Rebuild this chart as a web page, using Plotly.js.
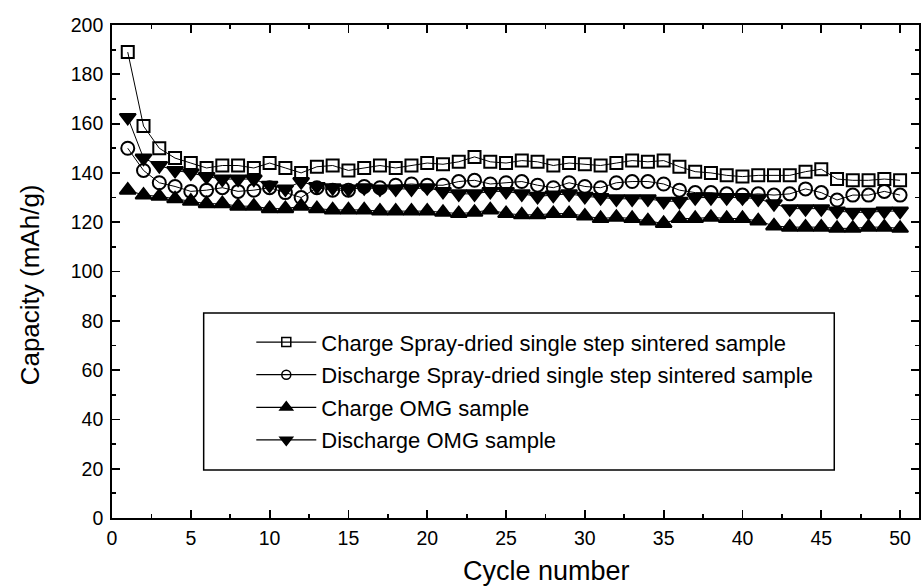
<!DOCTYPE html>
<html>
<head>
<meta charset="utf-8">
<script src="https://cdn.plot.ly/plotly-3.0.1.min.js"></script>
<style>html,body{margin:0;padding:0;background:#fff;}#chart{width:922px;height:587px;}</style>
</head>
<body>
<div id="chart"></div>
<script>
const cycles = [1,2,3,4,5,6,7,8,9,10,11,12,13,14,15,16,17,18,19,20,21,22,23,24,25,26,27,28,29,30,31,32,33,34,35,36,37,38,39,40,41,42,43,44,45,46,47,48,49,50];

const chargeSpray = [189,159,150,146,144,142,143,143,142,144,142,140,142.5,143,141,142,143,142,143,144,143.5,144.5,146.5,144.5,144,145,144.5,143,144,143.5,143,144,145,144.5,145,142.5,140.5,140,139,138.5,139,139,139,140.5,141.5,137.5,137,137,137.5,137];

const dischargeSpray = [150,141,136,134.5,132.5,133,134,132.5,133,134,132,130,134,133,133,134.5,134,135,135.5,135,135,136.5,137,135.5,136,136.5,135,134,136,134.5,134,136,136.5,136.5,135.5,133,132,132,131.5,131,131.5,131,131.5,133.5,132,129,131,131,132.5,131];

const chargeOMG = [133,131,130.5,129.5,128.5,127.5,127.5,126.5,126.5,125.5,125.5,126.5,125.5,125,125,125,124.5,124.5,124.5,124.5,124,123.5,124,125,123.5,123,123,123.5,123.5,122.5,121.5,122,121.5,120.5,119.5,121.5,121.5,122,121.5,121.5,120.5,118.5,118,118,118,117.5,117.5,118,118,117.5];

const dischargeOMG = [162.5,146,143,141,140,138.5,137.5,137.5,137.5,135,133.5,136.5,134.5,134,133.5,134,133.5,133.5,133.5,134,132.5,131.5,131.5,132.5,132.5,131.5,130.5,131,131.5,130.5,130,129.5,129.5,129.5,128.5,128.5,130,130,130,130,129.5,127.5,125.5,125.5,125.5,124.5,124,124,124.5,124.5];

const seriesNames = [
  "Charge Spray-dried single step sintered sample",
  "Discharge Spray-dried single step sintered sample",
  "Charge OMG sample",
  "Discharge OMG sample"
];

const xTitle = "Cycle number";
const yTitle = "Capacity (mAh/g)";

const FONT = "'Liberation Sans', Arial, Helvetica, sans-serif";

const symbols = ['square-open', 'circle-open', 'triangle-up', 'triangle-down'];
const plotSizes = [12, 13, 14, 14];
const legendSizes = [9, 9, 11, 11];
const series = [chargeSpray, dischargeSpray, chargeOMG, dischargeOMG];
const groups = ['a', 'b', 'c', 'd'];

const data = [];
series.forEach(function (y, i) {
  data.push({
    x: cycles, y: y, name: seriesNames[i], type: 'scatter', mode: 'lines+markers',
    line: {color: '#000', width: 1},
    marker: {symbol: symbols[i], size: plotSizes[i], color: '#000', line: {color: '#000', width: 2}},
    legendgroup: groups[i], showlegend: false
  });
});
// legend-only entries (smaller symbols, as in the original legend)
series.forEach(function (y, i) {
  data.push({
    x: [null], y: [null], name: seriesNames[i], type: 'scatter', mode: 'lines+markers',
    line: {color: '#000', width: 1.2},
    marker: {symbol: symbols[i], size: legendSizes[i], color: '#000', line: {color: '#000', width: 1.5}},
    legendgroup: groups[i], showlegend: true, hoverinfo: 'skip'
  });
});

const axisCommon = {
  showline: true, linecolor: '#000', linewidth: 1.8, mirror: 'ticks',
  ticks: 'inside', ticklen: 8, tickwidth: 1.8, tickcolor: '#000',
  showgrid: false, zeroline: false,
  tickfont: {family: FONT, size: 19.5, color: '#000'}
};

const layout = {
  width: 922, height: 587,
  margin: {l: 112, r: 3, t: 25, b: 69},
  paper_bgcolor: '#fff', plot_bgcolor: '#fff',
  font: {family: FONT, color: '#000'},
  showlegend: true,
  xaxis: Object.assign({}, axisCommon, {
    range: [0, 51.2], dtick: 5, tick0: 0, ticklabelstandoff: 2,
    minor: {dtick: 2.5, ticks: 'inside', ticklen: 4, tickwidth: 1.8, tickcolor: '#000'}
  }),
  yaxis: Object.assign({}, axisCommon, {
    range: [0, 200], dtick: 20, tick0: 0, ticklabelstandoff: 3,
    minor: {dtick: 10, ticks: 'inside', ticklen: 4, tickwidth: 1.8, tickcolor: '#000'}
  }),
  annotations: [
    {text: xTitle, xref: 'paper', yref: 'paper', x: 0.538, y: -0.1075,
     xanchor: 'center', yanchor: 'middle', showarrow: false,
     font: {family: FONT, size: 27, color: '#000'}},
    {text: yTitle, xref: 'paper', yref: 'paper', x: -0.1012, y: 0.4726,
     xanchor: 'center', yanchor: 'middle', showarrow: false, textangle: -90,
     font: {family: FONT, size: 26, color: '#000'}}
  ],
  legend: {
    x: 0.1726, y: 0.399, xanchor: 'left', yanchor: 'top',
    bgcolor: 'rgba(0,0,0,0)', borderwidth: 0,
    font: {family: FONT, size: 22, color: '#000'},
    traceorder: 'grouped', tracegroupgap: 1,
    itemwidth: 60
  },
  shapes: [{
    type: 'rect', xref: 'paper', yref: 'paper',
    x0: 0.1136, x1: 0.895, y0: 0.0974, y1: 0.4158,
    line: {color: '#000', width: 1.5}, fillcolor: 'rgba(0,0,0,0)', layer: 'below'
  }]
};

Plotly.newPlot('chart', data, layout, {displayModeBar: false, staticPlot: true});
</script>
</body>
</html>
